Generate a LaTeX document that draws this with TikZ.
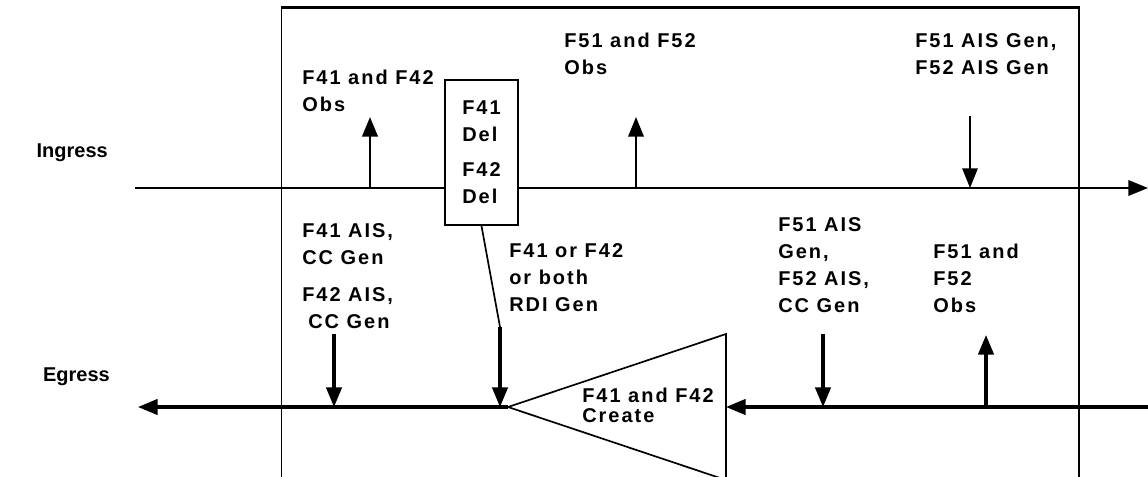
\documentclass[tikz,border=0pt]{standalone}
\usepackage{fontspec}
\setmainfont{Liberation Sans}
\newfontfamily\lblfont[LetterSpace=10]{Liberation Sans}
\usetikzlibrary{arrows.meta}

\begin{document}
\begin{tikzpicture}[x=0.025cm, y=-0.025cm,
  lbl/.style={anchor=north west, align=left, inner sep=0pt, font=\lblfont\bfseries\fontsize{14.2}{19.2}\selectfont},
  side/.style={anchor=north east, inner sep=0pt, font=\bfseries\fontsize{14.2}{17}\selectfont},
  tip/.style={-{Triangle[length=14pt,width=11pt]}}]
\useasboundingbox (0,0) rectangle (1148,476);

\draw[line width=1.1pt] (281.5,8) -- (281.5,490) (1079,8) -- (1079,490);
\draw[line width=2.2pt] (280.9,7.5) -- (1079.6,7.5);

\coordinate (ingL) at (135,188);
\coordinate (ingR) at (1148,188);
\coordinate (egL) at (138,407);
\coordinate (egR) at (1148,407);
\coordinate (apex) at (508,407);
\coordinate (triT) at (726,334);
\coordinate (triB) at (726,480);

\draw[line width=1.5pt, tip] (ingL) -- (ingR);
\node[lbl, draw, fill=white, line width=1.4pt, anchor=center, minimum width=1.825cm, minimum height=3.625cm] (del) at (481.5,152.5) {F41\\Del\\[5.7pt]F42\\Del};

\draw[line width=1.2pt] (apex) -- (triT) -- (triB) -- cycle;
\draw[line width=2.2pt, tip] (egR) -- (egR -| triT);
\draw[line width=2.2pt, tip] (apex) -- (egL);

\node[side] (ingress) at (108,143) {Ingress};
\node[side] (egress) at (110,367) {Egress};

\node[lbl] (obs4142) at (302,70) {F41 and F42\\Obs};
\node[lbl] (obs5152) at (564,33) {F51 and F52\\Obs};
\node[lbl] (gen5152) at (915,33) {F51 AIS Gen,\\F52 AIS Gen};
\node[lbl] (ais41) at (302,223) {F41 AIS,\\CC Gen};
\node[lbl] (ais42) at (302,287) {F42 AIS,\\\hspace*{0.3em}CC Gen};
\node[lbl] (rdi) at (509,243) {F41 or F42\\or both\\RDI Gen};
\node[lbl] (ais52) at (778,217) {F51 AIS\\Gen,\\F52 AIS,\\CC Gen};
\node[lbl] (obs52) at (933,244) {F51 and\\F52\\Obs};
\node[lbl] (create) at (582,388) {F41 and F42\\[-5pt]Create};

\coordinate (up41) at (370,117);
\coordinate (up51) at (636,117);
\coordinate (dn51) at (970,116);
\coordinate (dn42) at (334,334);
\coordinate (bend) at (500,327);
\coordinate (dn52) at (823,334);
\coordinate (up52) at (986,335);

\draw[line width=2pt, tip] (ingL -| up41) -- (up41);
\draw[line width=1.5pt, tip] (ingL -| up51) -- (up51);
\draw[line width=1.1pt, tip] (dn51) -- (dn51 |- ingL);
\draw[line width=2.2pt, tip] (dn42) -- (dn42 |- egL);
\draw[line width=1.2pt] (del.south) -- (bend);
\draw[line width=2.2pt, tip] (bend) -- (bend |- egL);
\draw[line width=2.2pt, tip] (dn52) -- (dn52 |- egL);
\draw[line width=2.2pt, tip] (egL -| up52) -- (up52);
\end{tikzpicture}
\end{document}
